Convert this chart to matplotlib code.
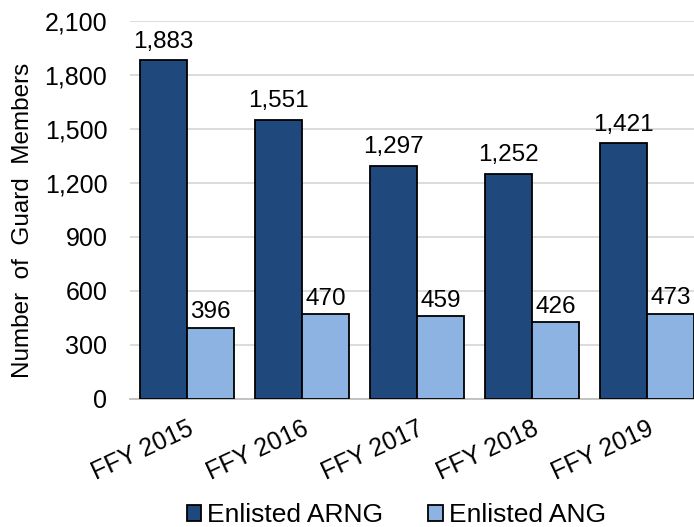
import numpy as np
import matplotlib.pyplot as plt

plt.rcParams['font.family'] = ['Liberation Sans', 'DejaVu Sans']

years = ['FFY 2015', 'FFY 2016', 'FFY 2017', 'FFY 2018', 'FFY 2019']
arng = [1883, 1551, 1297, 1252, 1421]
ang = [396, 470, 459, 426, 473]

fig = plt.figure(figsize=(6.94, 5.27), dpi=100)
ax = fig.add_axes([0.1866, 0.243, 0.8285, 0.717])

x = np.arange(len(years))
w = 0.41
b1 = ax.bar(x - w/2, arng, w, color='#1f497d', edgecolor='black', linewidth=1.3,
            label='Enlisted ARNG', zorder=3)
b2 = ax.bar(x + w/2, ang, w, color='#8db3e2', edgecolor='black', linewidth=1.3,
            label='Enlisted ANG', zorder=3)

for rect, v in zip(b1, arng):
    ax.annotate(f'{v:,}', (rect.get_x() + rect.get_width()/2, v), xytext=(0, 9),
                textcoords='offset points', ha='center', va='baseline', fontsize=17.5)
for rect, v in zip(b2, ang):
    ax.annotate(f'{v:,}', (rect.get_x() + rect.get_width()/2, v), xytext=(0, 7),
                textcoords='offset points', ha='center', va='baseline', fontsize=17.5)

ax.set_ylim(0, 2100)
ax.set_yticks(range(0, 2101, 300))
ax.set_yticklabels([f'{t:,}' for t in range(0, 2101, 300)], fontsize=18)
ax.set_xlim(-0.5, 4.5)
ax.set_xticks(x)
ax.set_xticklabels(years, rotation=25, ha='right', rotation_mode='anchor', fontsize=18)
ax.tick_params(axis='y', length=0, pad=16)
ax.tick_params(axis='x', length=0, pad=13)
ax.grid(axis='y', color='#d9d9d9', linewidth=1.3, zorder=0)
for s in ['top', 'right', 'left']:
    ax.spines[s].set_visible(False)
ax.spines['bottom'].set_color('#bfbfbf')
ax.spines['bottom'].set_linewidth(1.3)
ax.set_ylabel('Number  of  Guard  Members', fontsize=17.5)
ax.yaxis.set_label_coords(-0.166, 0.4735)

fig.legend(handles=[b1, b2], loc='lower center', bbox_to_anchor=(0.571, -0.045), ncol=2,
           frameon=False, fontsize=19, handlelength=0.55, handleheight=0.55,
           handletextpad=0.23, columnspacing=1.7)

fig.savefig('out.png', dpi=100)
